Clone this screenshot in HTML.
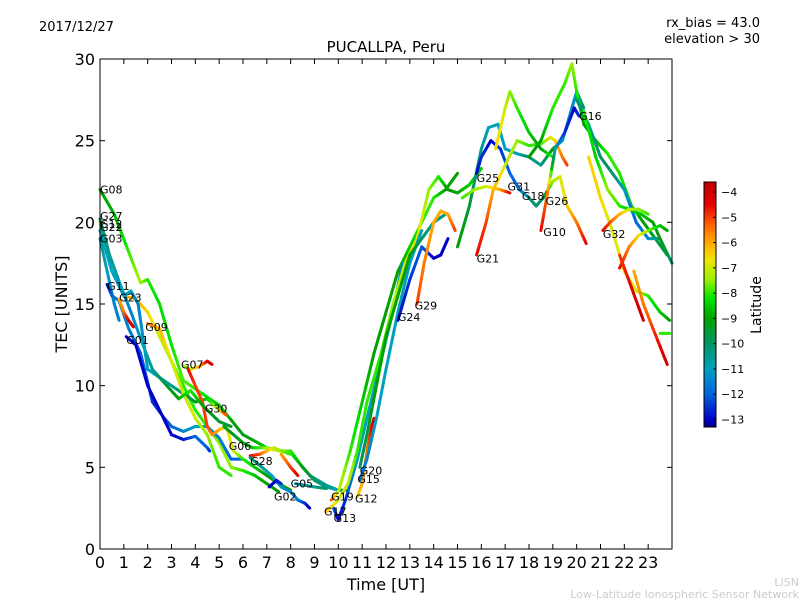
<!DOCTYPE html>
<html><head><meta charset="utf-8"><style>
body{margin:0;background:#fff;}
svg text{font-family:"DejaVu Sans","Liberation Sans",sans-serif;}
</style></head><body>
<svg id="chart" width="800" height="600" xmlns="http://www.w3.org/2000/svg">
<rect width="800" height="600" fill="#fff"/>
<text x="39" y="31" font-size="13">2017/12/27</text>
<text x="386" y="52" font-size="15" text-anchor="middle">PUCALLPA, Peru</text>
<text x="760" y="27" font-size="13" text-anchor="end">rx_bias = 43.0</text>
<text x="760" y="43" font-size="13" text-anchor="end">elevation &gt; 30</text>
<text x="386" y="590" font-size="16" text-anchor="middle">Time [UT]</text>
<text x="67" y="304" font-size="16" text-anchor="middle" transform="rotate(-90 67 304)">TEC [UNITS]</text>
<text x="761" y="305" font-size="14" text-anchor="middle" transform="rotate(-90 761 305)">Latitude</text>
<text x="799" y="586" font-size="11" fill="#ccc" text-anchor="end">LISN</text>
<text x="799" y="598" font-size="11" fill="#ccc" text-anchor="end">Low-Latitude Ionospheric Sensor Network</text>
<g id="marks"></g>
<g id="axes"></g>
</svg>
<script>
const xTicks=[0,1,2,3,4,5,6,7,8,9,10,11,12,13,14,15,16,17,18,19,20,21,22,23];
const yTicks=[0,5,10,15,20,25,30];
const cbTicks=[-4,-5,-6,-7,-8,-9,-10,-11,-12,-13];
const latMin=-13.3, latMax=-3.6;
const trackNames=["G08","G27","G22","G03","G11","G01","G23","G09","G07","G30","G06","G28","G05b","G02","G02b","G05","G19","G13","G17","G12","G15","G20","G24","G29","G25t","G25","G21","G25y","G31y","G16","G26","G10","E1","E2","E3","G32","E4","E5","E6","E7","E8"];
const tracks=[
[[0,22,-9],[0.6,20.5,-8.8],[1.2,18.2,-8],[1.7,16.3,-7.3],[2,16.5,-8],[2.5,15,-8.3],[3,12.5,-8.2],[3.5,10.3,-7.8],[4,9.8,-8],[5,8.8,-8.5],[6,7,-9.3],[7,6.2,-8.5],[8,5.9,-8.5],[8.8,4.5,-10],[9.5,3.9,-10.5],[10,3.6,-11]],
[[0,20,-7],[0.5,17.5,-7],[1,15.5,-6],[1.5,15.3,-6],[2,14.5,-6.5],[2.5,13,-7],[3,11.5,-7.5],[3.5,10,-8],[4,8.5,-8],[4.5,7.5,-8],[5,6.5,-7.5],[5.5,5,-7.5],[6,4.8,-8],[6.5,4.5,-8.5],[7,4,-9],[7.5,3.5,-9]],
[[0,19.5,-11],[0.5,17,-11],[1,15.5,-11],[1.3,15.8,-11],[1.6,15,-11.5],[2,11,-11],[2.5,10.5,-11],[3,10,-10.5],[3.5,9.5,-10],[4,9,-9.5],[4.5,9.2,-8.5],[5,8.5,-7],[5.3,8.2,-5]],
[[0,19,-10.5],[0.3,17,-11],[0.6,15,-11.5],[0.8,14,-11.5]],
[[0.3,16.2,-13],[0.5,15.5,-12],[0.8,15.2,-11.5],[1.2,13.5,-11.5],[1.7,12,-12],[2.2,9,-12.5],[2.7,8,-12.5],[3,7.5,-12],[3.5,7.2,-11.5],[4,7.5,-11],[4.5,7.5,-11],[5,6.8,-11.5],[5.5,5.5,-12],[6,5.5,-12]],
[[1.1,13,-13],[1.5,12.5,-13],[2,10,-13],[2.5,8.5,-13],[3,7,-13],[3.5,6.7,-12.8],[4,6.9,-12],[4.5,6.2,-12],[4.6,6,-12.5]],
[[0.8,15.3,-6],[1,14.5,-5.5],[1.2,14,-4.5],[1.4,13.6,-4]],
[[2,13.8,-5.5],[2.5,13.5,-6],[3,11.5,-7],[3.5,9.5,-7],[4,8,-7],[4.5,7,-7.5],[5,5,-8],[5.5,4.5,-8]],
[[3.5,11.2,-7.5],[3.8,11,-7],[4.2,11.2,-6],[4.5,11.5,-4.5],[4.7,11.3,-4]],
[[3.7,11,-4.5],[4,10,-5],[4.3,9,-5],[4.5,7.5,-5],[4.7,7,-5.5],[5,7.3,-6],[5.3,7.5,-6.5],[5.6,6,-7],[6,5.5,-8],[6.5,5,-8.5],[7,4.5,-9],[7.5,4,-9],[8,3.6,-9]],
[[5.2,7.5,-9],[5.6,7,-9.5],[6,6.5,-9],[6.4,6.2,-8.5],[7,6.2,-7.5],[7.5,6,-7],[8,6,-8],[8.5,5,-9],[9,4.2,-10],[9.5,3.8,-10.5],[10,3.6,-11],[10.3,3.6,-9]],
[[6.3,5.7,-4.5],[6.7,5.8,-5],[7,6,-6],[7.3,6.2,-7],[7.6,6,-7.5],[8,5.8,-8]],
[[7.6,5.8,-6],[8,5,-5],[8.3,4.5,-4.5]],
[[6.3,5.6,-10],[6.8,5,-10.5],[7.2,4.5,-11],[7.6,3.8,-11],[8,3.5,-11.5],[8.3,3,-11.5],[8.6,2.8,-12.5],[8.8,2.5,-13]],
[[7.1,3.8,-13],[7.4,4.2,-13],[7.6,4,-12.5]],
[[8.2,4,-11],[8.6,3.9,-10.5],[9,3.8,-10.5],[9.5,3.7,-10]],
[[9.7,3,-5],[10,3.5,-7],[10.5,6,-8],[11,9,-8.5],[11.5,12,-9],[12,14.5,-9],[12.5,17,-9],[13,18.5,-8.5],[13.5,20,-8],[14,21.5,-8],[14.5,22,-9],[15,23,-9]],
[[9.8,2.5,-12],[10,1.8,-13],[10.3,3,-12.5],[10.8,5.5,-11],[11.2,8,-11],[11.7,11,-11],[12.2,14,-11],[12.7,17.5,-11.5]],
[[9.5,2.3,-6],[10,3,-7],[10.4,4,-7],[10.8,6,-8],[11.2,9,-8],[11.8,12,-8],[12.3,15,-7.5],[12.8,17.5,-7],[13.3,19,-6.5],[13.8,22,-7.5],[14.2,22.8,-8],[14.6,22,-9],[15,21.8,-9],[15.5,22.3,-8.5],[16,23.3,-8.5]],
[[10.8,3.2,-6.5],[11,4,-6],[11.2,6,-5.5],[11.4,7.5,-4.5],[11.5,8,-4]],
[[10.9,4.2,-12],[11.2,5.5,-11.5],[11.6,8,-11],[12,11,-11],[12.5,14.5,-11],[13,17.5,-11],[13.5,19.5,-11]],
[[10.9,5,-10],[11.2,7,-9.5],[11.6,10,-9],[12,13,-9],[12.5,15.5,-9],[13,18,-9],[13.5,19,-10],[14,20,-10.5],[14.5,20.5,-10]],
[[12.5,14,-13],[13,16.5,-12.5],[13.5,18.5,-12],[14,17.8,-13],[14.3,18,-13],[14.6,19,-13]],
[[13.3,15,-5],[13.6,17.5,-5.5],[14,20,-6],[14.3,20.7,-6],[14.6,20.5,-6],[14.9,19.5,-5]],
[[15,18.5,-9],[15.5,21,-9.5],[16,24.5,-10.5],[16.3,25.8,-11],[16.7,26,-11],[17,24.5,-11],[17.5,24.2,-11],[18,24,-10],[18.5,23.5,-10.5],[19,24.5,-9],[19.4,25,-11],[19.8,27,-11.5],[20,28,-11],[20.3,27,-10]],
[[15.8,23,-13],[16,24,-12.5],[16.4,25,-13],[16.8,24.5,-12.5],[17.2,23,-12],[17.6,22,-12],[18,21.5,-10.5],[18.3,21,-10]],
[[15.8,18,-4.5],[16.2,20,-5],[16.5,22,-6],[17,23.5,-7],[17.5,25,-7.5],[18,24.7,-8],[18.5,24.8,-8],[18.9,25.2,-7],[19.1,25,-6.5],[19.4,24,-5.5],[19.6,23.5,-5]],
[[15.2,21.5,-8],[15.7,22,-7.5],[16.2,22.2,-7],[16.8,22,-6],[17.2,21.8,-4.5]],
[[16.6,24.5,-6.5],[17,27,-7],[17.2,28,-7.5],[17.5,27,-8],[18,25.5,-8.5],[18.5,24.5,-9],[19,24,-8]],
[[18,24,-9],[18.5,25,-9],[19,27,-8],[19.5,28.5,-8],[19.8,29.7,-7.5],[20,28,-8],[20.3,26,-9],[20.8,25,-9],[21.3,24.2,-8],[21.8,23,-8],[22.3,21,-8.5],[22.8,20,-9],[23.3,19,-9.5],[23.8,18,-10]],
[[18.3,21,-10],[18.6,21.5,-10],[19,22.5,-7.5],[19.3,22.8,-7],[19.6,21,-6.5],[20,20,-5.5],[20.4,18.7,-4.5]],
[[18.5,19.5,-4.5],[18.8,22,-5.5],[19.1,24.5,-11],[19.5,25.5,-12.5],[19.9,27,-13],[20.1,26.5,-12.5]],
[[20,27.5,-10],[20.5,26,-10.5],[21,24,-10],[21.5,23,-10],[22,22,-11],[22.5,20,-12],[23,19,-11.5],[23.5,19,-10],[24,17.5,-10]],
[[20.3,26.8,-8],[20.8,24,-8.5],[21.3,22,-7.5],[21.8,21,-8],[22.2,20.8,-8.5],[22.7,20.5,-8.5],[23.2,20,-9],[23.8,18,-9.5]],
[[20.5,24,-6.5],[21,21.5,-6.5],[21.5,19.5,-7],[22,17,-6.5],[22.5,15.8,-7],[23,15.5,-8],[23.5,14.5,-8.5],[23.9,14,-9]],
[[21.1,19.5,-4.5],[21.4,20,-5],[21.8,20.5,-6],[22.2,20.8,-7],[22.6,20.8,-7.5],[23,20.5,-8]],
[[21.8,17.2,-4.5],[22.2,18.5,-5.5],[22.6,19.2,-6.5],[23,19.5,-7.5],[23.5,19.8,-8.5],[23.8,19.5,-9]],
[[23.5,13.2,-8],[23.9,13.2,-8]],
[[21.8,18,-5],[22.3,16,-4.5],[22.8,14,-4]],
[[22.4,17,-6],[22.8,15,-5.5],[23.2,13.5,-5],[23.8,11.3,-4]],
[[0,20.2,-10],[0.4,18,-10.5],[0.9,16,-11],[1.3,14.5,-11.5],[1.8,12.5,-11],[2.2,11,-10.5],[2.8,10,-9.5],[3.3,9.2,-9],[3.8,9.7,-8],[4.3,8.8,-9],[5,7.8,-9.5],[5.5,7.5,-9.5]]
];
const labelNames=["G08","G27","G22","G12","G03","G11","G23","G09","G01","G07","G30","G06","G28","G05","G02","G19","G17","G13","G12","G15","G20","G24","G29","G21","G25","G31","G18","G26","G10","G16","G32"];
const labelT=[0,0,0,0,0,0.3,0.8,1.9,1.1,3.4,4.4,5.4,6.3,8.0,7.3,9.7,9.4,9.8,10.7,10.8,10.9,12.5,13.2,15.8,15.8,17.1,17.7,18.7,18.6,20.1,21.1];
const labelV=[22.0,20.4,19.7,19.9,19.0,16.1,15.4,13.6,12.8,11.3,8.6,6.3,5.4,4.0,3.2,3.2,2.3,1.9,3.1,4.3,4.8,14.2,14.9,17.8,22.7,22.2,21.6,21.3,19.4,26.5,19.3];
const X0=100,X1=672,Y0=549,Y1=59;
const xs=t=>X0+t*(X1-X0)/24;
const ys=v=>Y0-v*(Y0-Y1)/30;
const cmapLat=[-13.3,-13,-12,-11,-10,-9,-8.2,-7.5,-6.7,-6,-5.3,-4.5,-3.6];
const cmapCol=[[0,0,130],[0,0,200],[0,100,220],[0,160,190],[0,150,100],[0,160,0],[0,230,0],[150,240,0],[240,230,0],[255,170,0],[255,100,0],[230,0,0],[190,0,0]];
function cmap(l){
 if(l<=cmapLat[0])return `rgb(${cmapCol[0]})`;
 for(let i=0;i<cmapLat.length-1;i++){
  if(l<=cmapLat[i+1]){const f=(l-cmapLat[i])/(cmapLat[i+1]-cmapLat[i]);
   const c=cmapCol[i].map((v,k)=>Math.round(v+(cmapCol[i+1][k]-v)*f));return `rgb(${c})`;}
 }
 return `rgb(${cmapCol[cmapCol.length-1]})`;
}
const NS="http://www.w3.org/2000/svg";
const marks=document.getElementById('marks');
tracks.forEach((tr,i)=>{
 const g=document.createElementNS(NS,'g');
 
 
 for(let k=0;k<tr.length-1;k++){
  const a=tr[k],b=tr[k+1],n=6;
  for(let s=0;s<n;s++){
   const f0=s/n,f1=(s+1)/n;
   const l=document.createElementNS(NS,'line');
   l.setAttribute('x1',xs(a[0]+(b[0]-a[0])*f0));l.setAttribute('y1',ys(a[1]+(b[1]-a[1])*f0));
   l.setAttribute('x2',xs(a[0]+(b[0]-a[0])*f1));l.setAttribute('y2',ys(a[1]+(b[1]-a[1])*f1));
   l.setAttribute('stroke',cmap(a[2]+(b[2]-a[2])*(f0+f1)/2));
   l.setAttribute('stroke-width','3');l.setAttribute('stroke-linecap','round');
   g.appendChild(l);
  }
 }
 marks.appendChild(g);
});
labelNames.forEach((n,i)=>{
 const t=document.createElementNS(NS,'text');
 
 
 t.setAttribute('x',xs(labelT[i]));t.setAttribute('y',ys(labelV[i])+4);
 t.setAttribute('font-size','11');t.textContent=n;marks.appendChild(t);
});
const ax=document.getElementById('axes');
const frame=document.createElementNS(NS,'rect');


frame.setAttribute('x',X0);frame.setAttribute('y',Y1);frame.setAttribute('width',X1-X0);frame.setAttribute('height',Y0-Y1);
frame.setAttribute('fill','none');frame.setAttribute('stroke','#000');ax.appendChild(frame);
xTicks.forEach(v=>{
 const x=xs(v);
 [[Y0,Y0-5],[Y1,Y1+5]].forEach(p=>{const l=document.createElementNS(NS,'line');l.setAttribute('x1',x);l.setAttribute('x2',x);l.setAttribute('y1',p[0]);l.setAttribute('y2',p[1]);l.setAttribute('stroke','#000');ax.appendChild(l);});
 const t=document.createElementNS(NS,'text');
 
 
 t.setAttribute('x',x);t.setAttribute('y',Y0+19);t.setAttribute('font-size','16');t.setAttribute('text-anchor','middle');t.textContent=v;ax.appendChild(t);
});
yTicks.forEach(v=>{
 const y=ys(v);
 [[X0,X0+5],[X1,X1-5]].forEach(p=>{const l=document.createElementNS(NS,'line');l.setAttribute('y1',y);l.setAttribute('y2',y);l.setAttribute('x1',p[0]);l.setAttribute('x2',p[1]);l.setAttribute('stroke','#000');ax.appendChild(l);});
 const t=document.createElementNS(NS,'text');
 
 
 t.setAttribute('x',X0-5);t.setAttribute('y',y+6);t.setAttribute('font-size','16');t.setAttribute('text-anchor','end');t.textContent=v;ax.appendChild(t);
});
const CB0=182,CB1=427,CBX=704,CBW=12;
const cb=document.createElementNS(NS,'g');


for(let i=0;i<CB1-CB0;i++){const r=document.createElementNS(NS,'rect');r.setAttribute('x',CBX);r.setAttribute('y',CB0+i);r.setAttribute('width',CBW);r.setAttribute('height',1.5);r.setAttribute('fill',cmap(latMax-(i+0.5)/(CB1-CB0)*(latMax-latMin)));cb.appendChild(r);}
const cbf=document.createElementNS(NS,'rect');cbf.setAttribute('x',CBX);cbf.setAttribute('y',CB0);cbf.setAttribute('width',CBW);cbf.setAttribute('height',CB1-CB0);cbf.setAttribute('fill','none');cbf.setAttribute('stroke','#000');cb.appendChild(cbf);
cbTicks.forEach(v=>{
 const y=CB1-(v-latMin)/(latMax-latMin)*(CB1-CB0);
 const l=document.createElementNS(NS,'line');l.setAttribute('x1',CBX+CBW-3);l.setAttribute('x2',CBX+CBW);l.setAttribute('y1',y);l.setAttribute('y2',y);l.setAttribute('stroke','#000');cb.appendChild(l);
 const t=document.createElementNS(NS,'text');
 
 
 t.setAttribute('x',CBX+CBW+5);t.setAttribute('y',y+4);t.setAttribute('font-size','11');t.textContent='\u2212'+Math.abs(v);cb.appendChild(t);
});
ax.appendChild(cb);
</script>
</body></html>
